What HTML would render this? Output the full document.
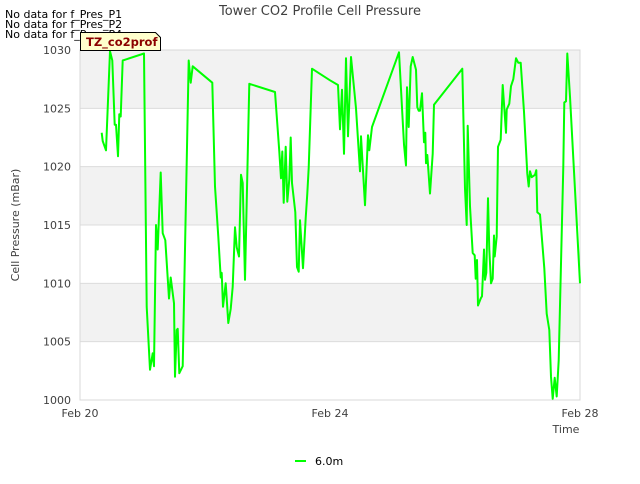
<!DOCTYPE html>
<html><head><meta charset="utf-8"><style>
body{margin:0;background:#fff;width:640px;height:480px;overflow:hidden;font-family:"DejaVu Sans","Liberation Sans",sans-serif}
svg text{font-family:"DejaVu Sans","Liberation Sans",sans-serif}
</style></head><body>
<svg id="chart" width="640" height="480" viewBox="0 0 640 480">
<g id="bands"></g>
<g id="grid"></g>
<rect x="80" y="50" width="500" height="350" fill="none" stroke="#d8d8d8"/>
<g id="yticks"></g><g id="xticks"></g>
<path id="line" fill="none" stroke="#00ff00" stroke-width="2" stroke-linejoin="round"/>
<text x="320" y="15" text-anchor="middle" font-size="13" fill="#404040">Tower CO2 Profile Cell Pressure</text>
<text x="5" y="18" font-size="11" fill="#000">No data for f_Pres_P1</text>
<text x="5" y="28" font-size="11" fill="#000">No data for f_Pres_P2</text>
<text x="5" y="38" font-size="11" fill="#000">No data for f_Pres_P4</text>
<g>
<path d="M80.5,32.5 H155.5 L160.5,37.5 V50.5 H80.5 Z" fill="#ffffcc" stroke="#000"/>
<text x="86" y="46" font-size="11.5" font-weight="bold" fill="#8b0000">TZ_co2prof</text>
</g>
<text transform="translate(19,225) rotate(-90)" text-anchor="middle" font-size="11" fill="#404040">Cell Pressure (mBar)</text>
<text x="566" y="433" text-anchor="middle" font-size="11" fill="#404040">Time</text>
<line x1="295" y1="461" x2="306" y2="461" stroke="#00ff00" stroke-width="2"/>
<text x="315" y="465" font-size="11" fill="#000">6.0m</text>
</svg>
<script>
const yTicks=[1000,1005,1010,1015,1020,1025,1030];
const xTickDays=[0,4,8];
const xTickLabels=["Feb 20","Feb 24","Feb 28"];
const days=[0.347,0.363,0.416,0.48,0.517,0.555,0.576,0.608,0.629,0.651,0.683,1.024,1.067,1.12,1.163,1.184,1.216,1.243,1.291,1.323,1.365,1.424,1.451,1.504,1.52,1.547,1.563,1.589,1.643,1.739,1.771,1.803,2.117,2.16,2.213,2.251,2.267,2.288,2.331,2.373,2.411,2.443,2.48,2.507,2.544,2.576,2.603,2.64,2.709,3.12,3.189,3.216,3.237,3.259,3.291,3.317,3.349,3.371,3.392,3.445,3.472,3.499,3.52,3.568,3.611,3.637,3.659,3.712,4.0,4.128,4.16,4.192,4.224,4.256,4.288,4.336,4.416,4.48,4.496,4.56,4.608,4.629,4.672,5.104,5.184,5.216,5.232,5.259,5.291,5.323,5.376,5.397,5.419,5.44,5.472,5.504,5.525,5.536,5.557,5.6,5.643,5.664,6.117,6.16,6.187,6.203,6.24,6.283,6.315,6.331,6.352,6.368,6.411,6.432,6.464,6.48,6.501,6.528,6.549,6.576,6.603,6.624,6.635,6.667,6.688,6.731,6.763,6.816,6.827,6.869,6.896,6.933,6.976,7.013,7.051,7.104,7.157,7.179,7.2,7.227,7.28,7.301,7.317,7.36,7.429,7.467,7.509,7.536,7.563,7.595,7.627,7.659,7.733,7.749,7.776,7.797,7.84,8.0];
const pressure=[1022.9,1022.2,1021.4,1029.9,1029.1,1023.6,1023.6,1020.9,1024.5,1024.3,1029.1,1029.7,1008.0,1002.6,1004.0,1002.9,1015.0,1012.9,1019.5,1014.3,1013.7,1008.7,1010.5,1008.3,1002.0,1006.0,1006.1,1002.3,1002.9,1029.1,1027.2,1028.6,1027.2,1018.3,1014.0,1010.5,1010.9,1008.0,1010.0,1006.6,1007.8,1009.7,1014.8,1013.1,1012.3,1019.3,1018.6,1010.3,1027.1,1026.4,1021.3,1019.0,1021.3,1016.9,1021.7,1017.0,1018.9,1022.5,1018.6,1016.1,1011.4,1011.0,1015.4,1011.3,1015.6,1017.7,1019.9,1028.4,1027.4,1027.0,1023.2,1026.6,1021.1,1029.3,1022.6,1029.4,1025.0,1019.6,1022.6,1016.7,1022.7,1021.4,1023.4,1029.8,1021.9,1020.1,1026.8,1023.4,1028.6,1029.4,1028.3,1025.1,1024.8,1024.8,1026.3,1022.1,1022.9,1020.3,1021.0,1017.7,1021.1,1025.3,1028.4,1018.1,1015.0,1023.5,1016.6,1012.6,1012.4,1010.4,1012.0,1008.1,1008.7,1008.9,1012.9,1010.3,1010.9,1017.3,1012.9,1010.0,1010.4,1014.1,1012.3,1014.0,1021.7,1022.3,1027.0,1022.9,1024.9,1025.4,1026.9,1027.5,1029.3,1028.9,1028.9,1024.7,1019.4,1018.3,1019.6,1019.1,1019.3,1019.7,1016.1,1015.9,1011.3,1007.4,1006.0,1002.0,1000.1,1001.9,1000.3,1003.4,1020.0,1025.5,1025.6,1029.7,1026.0,1010.0];
const X0=80,X1=580,Y0=400,Y1=50;
const xs=d=>X0+(d-0)/(8-0)*(X1-X0);
const ys=v=>Y0-(v-1000)/(1030-1000)*(Y0-Y1);
const NS="http://www.w3.org/2000/svg";
const bands=document.getElementById('bands'),grid=document.getElementById('grid'),yt=document.getElementById('yticks'),xt=document.getElementById('xticks');
for(let i=0;i<yTicks.length-1;i++){
  if((yTicks.length-2-i)%2===0){
    const r=document.createElementNS(NS,'rect');
    r.setAttribute('x',X0);r.setAttribute('width',X1-X0);
    r.setAttribute('y',ys(yTicks[i+1]));r.setAttribute('height',ys(yTicks[i])-ys(yTicks[i+1]));
    r.setAttribute('fill','#f2f2f2');
    
    
    bands.appendChild(r);
  }
}
yTicks.forEach(v=>{
  const l=document.createElementNS(NS,'line');
  l.setAttribute('x1',X0);l.setAttribute('x2',X1);l.setAttribute('y1',ys(v));l.setAttribute('y2',ys(v));
  l.setAttribute('stroke','#dcdcdc');
  
  
  grid.appendChild(l);
  const t=document.createElementNS(NS,'text');
  t.setAttribute('x',X0-9);t.setAttribute('y',ys(v)+4);t.setAttribute('text-anchor','end');
  t.setAttribute('font-size','11');t.setAttribute('fill','#404040');t.textContent=v;
  
  
  yt.appendChild(t);
});
xTickDays.forEach((d,i)=>{
  const t=document.createElementNS(NS,'text');
  t.setAttribute('x',xs(d));t.setAttribute('y',417);t.setAttribute('text-anchor','middle');
  t.setAttribute('font-size','11');t.setAttribute('fill','#404040');t.textContent=xTickLabels[i];
  
  
  xt.appendChild(t);
});
document.getElementById('line').setAttribute('d',days.map((d,i)=>(i?'L':'M')+xs(d).toFixed(1)+','+ys(pressure[i]).toFixed(1)).join(''));
</script>
</body></html>
